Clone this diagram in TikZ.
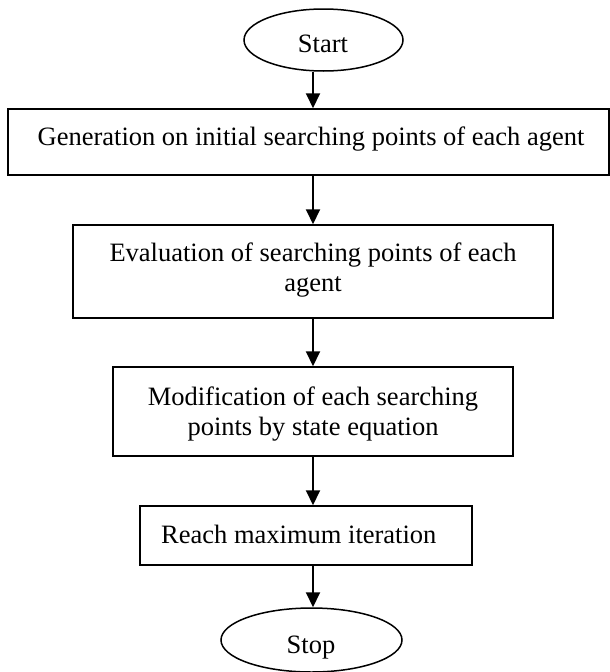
\documentclass[tikz,border=0pt]{standalone}
\usepackage{fontspec}
\setmainfont{Liberation Serif}
\usetikzlibrary{arrows.meta,shapes.geometric}
\begin{document}
\begin{tikzpicture}[x=1pt,y=-1pt,
  box/.style={draw,line width=1.5pt,rectangle,inner sep=0pt},
  oval/.style={draw,line width=1.5pt,ellipse,inner sep=0pt},
  txt/.style={anchor=base,inner sep=0pt,font=\fontsize{26.5}{30}\selectfont},
  arr/.style={line width=2pt,-{Triangle[width=14pt,length=15pt]}}]
\useasboundingbox (0,0) rectangle (610,672);
\coordinate (spine) at (313,0);
% start
\node[oval,minimum width=159pt,minimum height=62pt] (s) at (323.5,40) {};
\node[txt] (st) at (323,52.7) {Start};
% box 1
\node[box,minimum width=601pt,minimum height=66pt] (b1) at (308.5,142) {};
\node[txt] (t1) at (311,145.7) {Generation on initial searching points of each agent};
% box 2
\node[box,minimum width=480pt,minimum height=93pt] (b2) at (313,271.5) {};
\node[txt] (t2a) at (313,261.7) {Evaluation of searching points of each};
\node[txt] (t2b) at (313,291.7) {agent};
% box 3
\node[box,minimum width=400pt,minimum height=89pt] (b3) at (313,411.5) {};
\node[txt] (t3a) at (313,405) {Modification of each searching};
\node[txt] (t3b) at (313,435) {points by state equation};
% box 4
\node[box,minimum width=332pt,minimum height=59pt] (b4) at (306,535.5) {};
\node[txt,anchor=base west] (t4) at (161,543.3) {Reach maximum iteration};
% stop
\node[oval,minimum width=181pt,minimum height=64pt] (e) at (311.5,640) {};
\node[txt] (et) at (311,653) {Stop};
% arrows
\draw[arr] (s.south -| spine) -- (b1.north -| spine);
\draw[arr] (b1.south -| spine) -- (b2.north -| spine);
\draw[arr] (b2.south -| spine) -- (b3.north -| spine);
\draw[arr] (b3.south -| spine) -- (b4.north -| spine);
\draw[arr] (b4.south -| spine) -- (e.north -| spine);
\end{tikzpicture}
\end{document}
